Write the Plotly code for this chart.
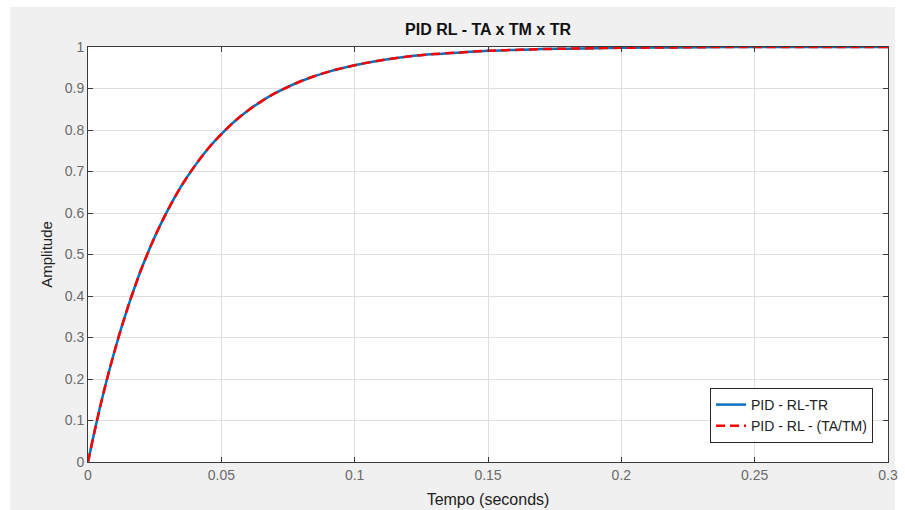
import plotly.graph_objects as go

# Time samples (s) and step-response amplitudes
tempo = [0, 0.0025, 0.005, 0.0075, 0.01, 0.0125, 0.015, 0.0175, 0.02, 0.025,
         0.03, 0.035, 0.04, 0.045, 0.05, 0.055, 0.06, 0.065, 0.07, 0.08,
         0.09, 0.10, 0.11, 0.12, 0.13, 0.14, 0.15, 0.16, 0.17, 0.18,
         0.19, 0.20, 0.22, 0.24, 0.26, 0.28, 0.30]
amp_tr = [0, 0.075, 0.145, 0.209, 0.268, 0.323, 0.374, 0.421, 0.465, 0.542,
          0.608, 0.665, 0.713, 0.755, 0.790, 0.821, 0.847, 0.869, 0.888, 0.918,
          0.940, 0.956, 0.968, 0.977, 0.983, 0.987, 0.991, 0.993, 0.995, 0.996,
          0.997, 0.998, 0.999, 1.0, 1.0, 1.0, 1.0]
amp_tatm = [0, 0.075, 0.145, 0.209, 0.268, 0.323, 0.374, 0.421, 0.465, 0.542,
            0.608, 0.665, 0.713, 0.755, 0.790, 0.821, 0.847, 0.869, 0.888, 0.918,
            0.940, 0.956, 0.968, 0.977, 0.983, 0.987, 0.991, 0.993, 0.995, 0.996,
            0.997, 0.998, 0.999, 1.0, 1.0, 1.0, 1.0]

x_ticks = [0, 0.05, 0.1, 0.15, 0.2, 0.25, 0.3]
x_labels = ["0", "0.05", "0.1", "0.15", "0.2", "0.25", "0.3"]
y_ticks = [0, 0.1, 0.2, 0.3, 0.4, 0.5, 0.6, 0.7, 0.8, 0.9, 1]
y_labels = ["0", "0.1", "0.2", "0.3", "0.4", "0.5", "0.6", "0.7", "0.8", "0.9", "1"]

names = ["PID - RL-TR", "PID - RL - (TA/TM)"]

FONT = "Liberation Sans, Arial, sans-serif"

fig = go.Figure()
fig.add_trace(go.Scatter(x=tempo, y=amp_tr, mode="lines", name=names[0],
                         line=dict(color="#0072BD", width=2.5, shape="spline")))
fig.add_trace(go.Scatter(x=tempo, y=amp_tatm, mode="lines", name=names[1],
                         line=dict(color="#FF0000", width=2.5, dash="9px,5px", shape="spline")))

W, H = 905, 510
L, R, T, B = 88, 17, 47, 48
pw, ph = W - L - R, H - T - B

def px_x(p):
    return (p - L) / pw

def px_y(p):
    return (H - B - p) / ph

axis_common = dict(
    showgrid=True, gridcolor="#dfdfdf", gridwidth=1,
    showline=True, linecolor="#3a3a3a", linewidth=1, mirror="ticks",
    ticks="inside", ticklen=5, tickcolor="#3a3a3a",
    tickfont=dict(family=FONT, size=14, color="#6a6a6a"),
    zeroline=False, fixedrange=True, automargin=False,
)

fig.update_layout(
    width=W, height=H,
    margin=dict(l=L, r=R, t=T, b=B, autoexpand=False),
    paper_bgcolor="white", plot_bgcolor="white",
    title=dict(text="<b>PID RL - TA x TM x TR</b>", x=0.5 * (L + W - R) / W, xanchor="center",
               y=1 - 29 / H, yanchor="middle",
               font=dict(family=FONT, size=16, color="#111111")),
    xaxis=dict(range=[0, 0.3], tickvals=x_ticks, ticktext=x_labels,
               title=dict(text="Tempo (seconds)", standoff=12,
                          font=dict(family=FONT, size=16, color="#222222")),
               **axis_common),
    yaxis=dict(range=[0, 1], tickvals=y_ticks, ticktext=y_labels,
               title=dict(text="Amplitude", standoff=8,
                          font=dict(family=FONT, size=15, color="#222222")),
               **axis_common),
    legend=dict(x=px_x(873), y=px_y(443), xanchor="right", yanchor="bottom",
                bgcolor="white", bordercolor="#262626", borderwidth=1,
                font=dict(family=FONT, size=14, color="#222222"),
                tracegroupgap=0, itemwidth=30),
    showlegend=True,
    shapes=[
        dict(type="rect", xref="paper", yref="paper", layer="below",
             x0=px_x(10), x1=px_x(895), y0=px_y(520), y1=px_y(7),
             fillcolor="#f0f0f0", line=dict(width=0)),
        dict(type="rect", xref="paper", yref="paper", layer="below",
             x0=0, x1=1, y0=0, y1=1,
             fillcolor="white", line=dict(width=0)),
    ],
)

fig.write_html("out.html")
